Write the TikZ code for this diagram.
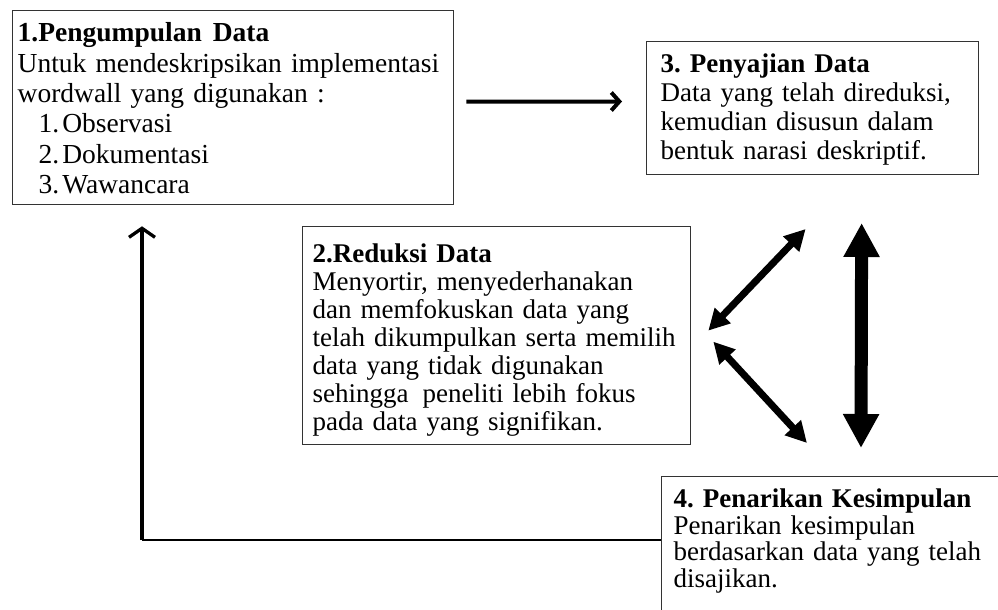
\documentclass[tikz,border=0pt]{standalone}
\usepackage{fontspec}
\setmainfont{Liberation Serif}
\usetikzlibrary{arrows.meta}

\begin{document}
\frenchspacing
\begin{tikzpicture}[x=1pt,y=-1pt,
    kotak/.style={draw=black!80, line width=1.3pt, anchor=north west, align=left,
      inner ysep=0pt},
    isi/.style={font=\fontsize{27}{#1}\selectfont},
    panah/.style={-{Straight Barb[length=8pt,width=18pt]}, line width=#1},
    duaarah/.style={{Triangle[length=#1,width=#1]}-{Triangle[length=#1,width=#1]}},
  ]
  \useasboundingbox (0,0) rectangle (998,610);

  % kotak-kotak
  \node[kotak, font=\fontsize{27.5}{30.4}\selectfont, inner xsep=5pt, text width=431pt, text height=31pt, text depth=163pt] (satu) at (12,10)
    {\textbf{1.Pengumpulan\hspace{11pt}Data}\\
     Untuk mendeskripsikan implementasi\\
     wordwall yang digunakan :\\
     \hspace*{21pt}1.\hspace{3pt}Observasi\\
     \hspace*{21pt}2.\hspace{3pt}Dokumentasi\\
     \hspace*{21pt}3.\hspace{3pt}Wawancara};
  \node[kotak, isi=29, inner xsep=14pt, text width=304pt, text height=30.7pt, text depth=102pt] (tiga) at (646,41)
    {\textbf{3. Penyajian Data}\\
     Data yang telah direduksi,\\
     kemudian disusun dalam\\
     bentuk narasi deskriptif.};
  \node[kotak, isi=28, inner xsep=10pt, text width=368pt, text height=36pt, text depth=182pt] (dua) at (302,226)
    {\textbf{2.Reduksi Data}\\
     Menyortir, menyederhanakan\\
     dan memfokuskan data yang\\
     telah dikumpulkan serta memilih\\
     data yang tidak digunakan\\
     sehingga\hspace{14pt}peneliti lebih fokus\\
     pada data yang signifikan.};
  \node[kotak, isi=26.5, inner xsep=12pt, text width=340pt, text height=31pt, text depth=150pt] (empat) at (661,476)
    {\textbf{4. Penarikan Kesimpulan}\\
     Penarikan kesimpulan\\
     berdasarkan data yang telah\\
     disajikan.};

  % panah
  \draw[panah=4pt] ([xshift=12pt,yshift=6pt]satu.east) -- ([xshift=-24pt,yshift=6.5pt]tiga.west);
  \coordinate (sudut) at (142,540);
  \draw[line width=2pt] ([yshift=-64pt]empat.north west) -- (sudut);
  \draw[-{Straight Barb[length=9pt,width=26pt]}, line width=3.3pt] (sudut) -- ([xshift=130pt,yshift=-21pt]satu.south west);
  \draw[duaarah=21pt, line width=7pt] ([xshift=17pt,yshift=5pt]dua.east) -- ([xshift=-7pt,yshift=-54pt]tiga.south);
  \draw[duaarah=21pt, line width=7pt] ([xshift=22pt,yshift=-6pt]dua.east) -- ([xshift=146pt,yshift=33pt]empat.north west);
  \draw[duaarah=34pt, line width=13pt] ([xshift=49pt,yshift=-48pt]tiga.south) -- ([xshift=200pt,yshift=28pt]empat.north west);
\end{tikzpicture}
\end{document}
